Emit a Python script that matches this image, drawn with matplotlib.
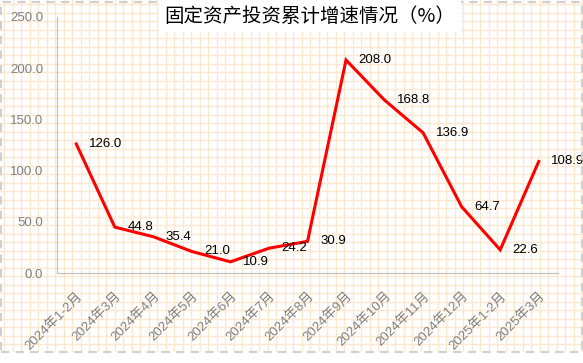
import numpy as np
import matplotlib.pyplot as plt
from matplotlib.patches import Rectangle

# Data
months = ["2024年1-2月", "2024年3月", "2024年4月", "2024年5月", "2024年6月",
          "2024年7月", "2024年8月", "2024年9月", "2024年10月", "2024年11月",
          "2024年12月", "2025年1-2月", "2025年3月"]
growth = [126.0, 44.8, 35.4, 21.0, 10.9, 24.2, 30.9, 208.0, 168.8, 136.9,
          64.7, 22.6, 108.9]
yticks = [0, 50, 100, 150, 200, 250]

fonts = ['Liberation Sans', 'Noto Sans CJK SC']
plt.rcParams['font.family'] = fonts

W, H = 583, 363
fig = plt.figure(figsize=(W/100, H/100), dpi=100)

# grid paper background (figure level)
bg = fig.add_axes([0, 11/H, 1, 1 - 11/H], zorder=-5)
bg.set_xlim(0, W)
bg.set_ylim(352, 0)
bg.axis('off')
for gx in np.arange(4, W, 8.5):
    bg.axvline(gx, color='#fbe8cf', lw=1)
for gy in np.arange(4, 352, 8.5):
    bg.axhline(gy, color='#fbe8cf', lw=1)
fig.add_artist(Rectangle((1/W, 11/H), (W-2)/W, (H-13)/H, transform=fig.transFigure,
                         fill=False, ls=(0, (4, 3)), lw=1.5, ec='#d0d0d0'))

# main chart
ax = fig.add_axes([57/W, 90/H, (558-57)/W, (273-17)/H])
ax.patch.set_alpha(0)
x = np.arange(len(months))
ax.plot(x, growth, color='#ff0000', lw=2.2, solid_joinstyle='miter')
for xi, v in zip(x, growth):
    ax.annotate(f"{v:.1f}", (xi, v), xytext=(9, 0), textcoords='offset points',
                va='center', ha='left', fontsize=9.5, color='black')

ax.set_xlim(-0.5, len(months) - 0.5)
ax.set_ylim(0, 250)
ax.set_yticks(yticks)
ax.set_yticklabels([f"{t:.1f}" for t in yticks])
ax.set_xticks(x)
ax.set_xticklabels(months, rotation=45, ha='right', rotation_mode='anchor')
ax.tick_params(length=0, colors='#808080', labelsize=9.5)
ax.tick_params(axis='x', pad=12)
ax.tick_params(axis='y', pad=10)
for s in ['top', 'right']:
    ax.spines[s].set_visible(False)
for s in ['left', 'bottom']:
    ax.spines[s].set_color('#bfbfbf')

fig.text(310/W, 1 - 16/H, "固定资产投资累计增速情况（%）", ha='center', va='center',
         fontsize=14, family=['Noto Sans CJK SC', 'DejaVu Sans'], color='black',
         bbox=dict(facecolor='white', edgecolor='none', pad=4))

fig.savefig('out.png', dpi=100)
